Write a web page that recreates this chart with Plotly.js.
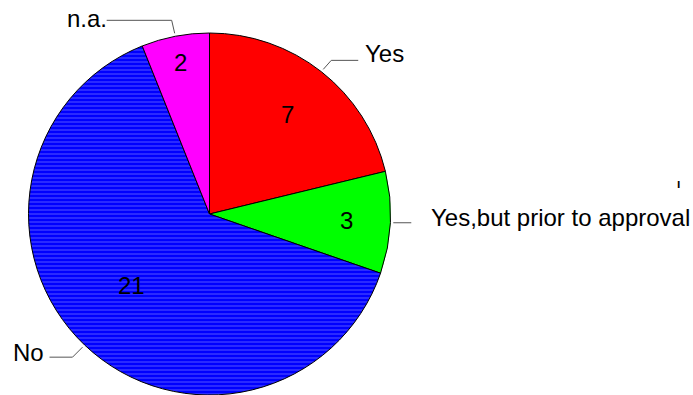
<!DOCTYPE html>
<html>
<head>
<meta charset="utf-8">
<script src="https://cdn.plot.ly/plotly-3.0.1.min.js"></script>
<style>html,body{margin:0;padding:0;background:#fff;}#chart{width:693px;height:395px;}</style>
</head>
<body>
<div id="chart"></div>
<script>
// ---- data ----
const categories = ["Yes", "Yes,but prior to approval", "No", "n.a."];
const values = [7, 3, 21, 2];
const colors = ["#ff0000", "#00ff00", "#0000ff", "#ff00ff"];

// ---- geometry / style ----
const W = 693, H = 395;
const CX = 209.5, CY = 214, R = 181;
const FONT = "Liberation Sans, Arial, sans-serif";
const FS = 24;
const valueFrac = [0.70, 0.755, 0.585, 0.85];
const valueAngAdj = [0, 0, 4, 0];
const elbow = [[8, -9], [0, 0], [-10, 10], [-3, -13]];
const hLen = [27, 18, 23, 65];
const hDir = [1, 1, -1, -1];
const labelGap = [7, 20, 6, 0];
const labelDy = [-7, -5, -5, -2];

const total = values.reduce((a, b) => a + b, 0);
const px2x = x => x / W;
const px2y = y => 1 - y / H;

const annotations = [];
const shapes = [];
let cum = 0;
values.forEach((v, i) => {
  const a0 = cum / total * 360;
  cum += v;
  const a1 = cum / total * 360;
  const mid = (a0 + a1) / 2;
  const rad = mid * Math.PI / 180;
  const vrad = (mid + valueAngAdj[i]) * Math.PI / 180;
  const vx = CX + R * valueFrac[i] * Math.sin(vrad);
  const vy = CY - R * valueFrac[i] * Math.cos(vrad);
  annotations.push({
    x: px2x(vx), y: px2y(vy), xref: "paper", yref: "paper",
    text: String(v), showarrow: false, xanchor: "center", yanchor: "middle",
    font: {family: FONT, size: FS, color: "#000"}
  });
  const sx = CX + (R + 3) * Math.sin(rad);
  const sy = CY - (R + 3) * Math.cos(rad);
  const ex = sx + elbow[i][0], ey = sy + elbow[i][1];
  const hx = ex + hDir[i] * hLen[i];
  shapes.push({
    type: "path", xref: "paper", yref: "paper",
    path: `M ${px2x(sx)} ${px2y(sy)} L ${px2x(ex)} ${px2y(ey)} L ${px2x(hx)} ${px2y(ey)}`,
    line: {color: "#555", width: 1}
  });
  annotations.push({
    x: px2x(hx + hDir[i] * (labelGap[i] - 2)), y: px2y(ey + labelDy[i]), xref: "paper", yref: "paper",
    text: categories[i], showarrow: false,
    xanchor: hDir[i] > 0 ? "left" : "right", yanchor: "middle",
    font: {family: FONT, size: FS, color: "#000"}
  });
});

annotations.push({
  x: px2x(678), y: px2y(184), xref: "paper", yref: "paper",
  text: "<b>ı</b>", showarrow: false, xanchor: "center", yanchor: "middle",
  font: {family: FONT, size: 12, color: "#000"}
});

const trace = {
  type: "pie",
  labels: categories,
  values: values,
  sort: false,
  direction: "clockwise",
  rotation: 0,
  textinfo: "none",
  hoverinfo: "label+value",
  marker: {
    colors: colors,
    line: {color: "#000", width: 1},
    pattern: {shape: ["", "", "-", ""], bgcolor: colors, fgcolor: "#4646ff", size: 4, solidity: 0.3}
  },
  domain: {x: [(CX - R) / W, (CX + R) / W], y: [(H - CY - R) / H, (H - CY + R) / H]},
  showlegend: false
};

const layout = {
  width: W, height: H,
  margin: {l: 0, r: 0, t: 0, b: 0},
  paper_bgcolor: "#fff",
  plot_bgcolor: "#fff",
  showlegend: false,
  annotations: annotations,
  shapes: shapes
};

Plotly.newPlot("chart", [trace], layout, {displayModeBar: false, staticPlot: true});
</script>
</body>
</html>
